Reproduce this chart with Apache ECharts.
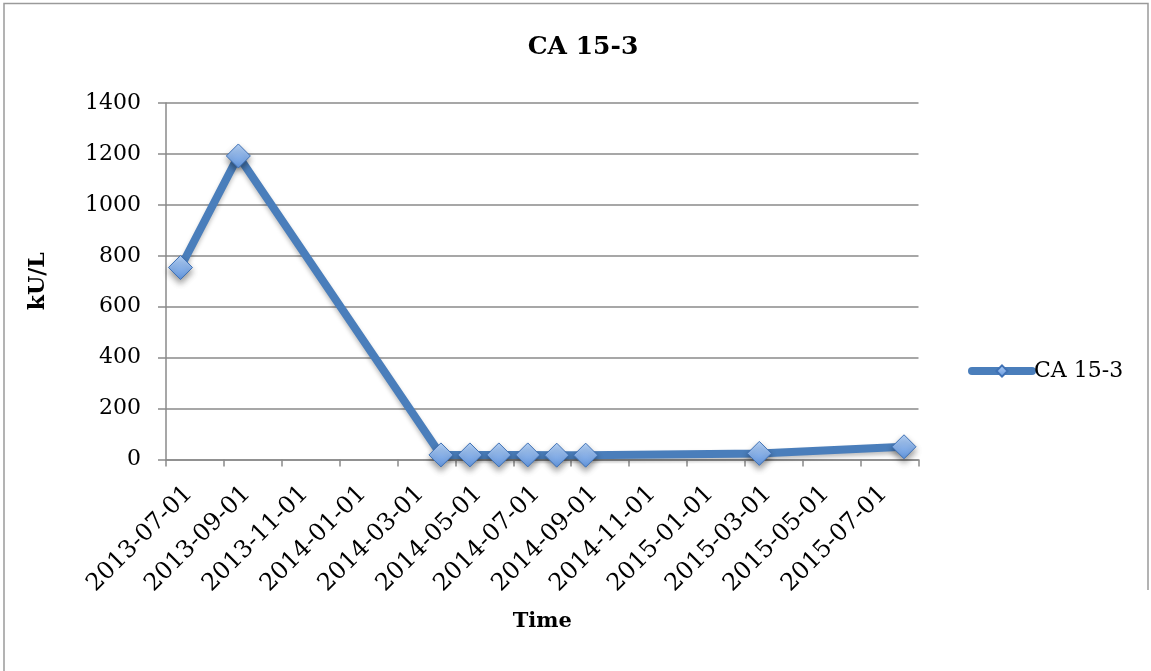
<!DOCTYPE html>
<html>
<head>
<meta charset="utf-8">
<title>CA 15-3</title>
<script src="https://cdn.jsdelivr.net/npm/echarts@6/dist/echarts.min.js"></script>
<style>
  html, body { margin: 0; padding: 0; background: #fff; }
  #chart { width: 1151px; height: 671px; }
</style>
</head>
<body>
<div id="chart"></div>
<script>
// Monthly slots on the time axis (one category per month)
const months = [
  '2013-07-01', '2013-08-01', '2013-09-01', '2013-10-01', '2013-11-01', '2013-12-01',
  '2014-01-01', '2014-02-01', '2014-03-01', '2014-04-01', '2014-05-01', '2014-06-01',
  '2014-07-01', '2014-08-01', '2014-09-01', '2014-10-01', '2014-11-01', '2014-12-01',
  '2015-01-01', '2015-02-01', '2015-03-01', '2015-04-01', '2015-05-01', '2015-06-01',
  '2015-07-01', '2015-08-01'
];

// Measurement months and CA 15-3 values (kU/L)
const sampleMonths = [
  '2013-07-01', '2013-09-01', '2014-04-01', '2014-05-01', '2014-06-01',
  '2014-07-01', '2014-08-01', '2014-09-01', '2015-03-01', '2015-08-01'
];
const ca153 = [754, 1192, 18, 18, 18, 18, 17, 17, 24, 50];

// y-axis scale
const yMin = 0;
const yMax = 1400;
const yStep = 200;

const serif = 'DejaVu Serif';
const lineBlue = '#4a7ebb';
const axisGrey = '#8a8a8a';

const chart = echarts.init(document.getElementById('chart'), null, { renderer: 'canvas' });

chart.setOption({
  backgroundColor: '#ffffff',
  animation: false,
  title: {
    text: 'CA 15-3',
    left: 578,
    textAlign: 'center',
    top: 30,
    textStyle: { fontFamily: serif, fontWeight: 'bold', fontSize: 25, color: '#000' }
  },
  legend: {
    left: 968,
    top: 360,
    padding: 0,
    itemWidth: 60,
    itemHeight: 14,
    itemGap: 10,
    lineStyle: { width: 8, cap: 'round' },
    textStyle: { fontFamily: serif, fontSize: 22, color: '#000', padding: [0, 0, 0, -3] },
    data: ['CA 15-3']
  },
  grid: { left: 166, right: 232.5, top: 103, bottom: 211.5, containLabel: false },
  xAxis: {
    type: 'category',
    data: months,
    boundaryGap: true,
    name: 'Time',
    nameLocation: 'middle',
    nameGap: 152,
    nameTextStyle: { fontFamily: serif, fontWeight: 'bold', fontSize: 21, color: '#000' },
    axisLine: { show: true, lineStyle: { color: axisGrey, width: 1.5 } },
    axisTick: { show: true, interval: 1, length: 7, lineStyle: { color: axisGrey, width: 1.5 } },
    axisLabel: {
      interval: 1,
      rotate: 45,
      margin: 22,
      align: 'right',
      verticalAlign: 'top',
      fontFamily: serif,
      fontSize: 24,
      color: '#000'
    },
    splitLine: { show: false }
  },
  yAxis: {
    type: 'value',
    min: yMin,
    max: yMax,
    interval: yStep,
    name: 'kU/L',
    nameLocation: 'middle',
    nameGap: 117,
    nameRotate: 90,
    nameTextStyle: { fontFamily: serif, fontWeight: 'bold', fontSize: 22, color: '#000' },
    axisLine: { show: true, lineStyle: { color: axisGrey, width: 1.5 } },
    axisTick: { show: true, length: 8, lineStyle: { color: axisGrey, width: 1.5 } },
    axisLabel: {
      margin: 25,
      fontFamily: serif,
      fontSize: 22,
      color: '#000',
      formatter: (v) => String(v)
    },
    splitLine: { show: true, lineStyle: { color: axisGrey, width: 1.5 } }
  },
  series: [{
    name: 'CA 15-3',
    type: 'line',
    data: sampleMonths.map((m, i) => [m, ca153[i]]),
    symbol: 'diamond',
    symbolSize: 24,
    showAllSymbol: true,
    lineStyle: {
      color: lineBlue,
      width: 8,
      cap: 'round',
      join: 'round',
      shadowColor: 'rgba(0,0,0,0.25)',
      shadowBlur: 4,
      shadowOffsetY: 3
    },
    itemStyle: {
      color: new echarts.graphic.LinearGradient(0, 0, 0, 1, [
        { offset: 0, color: '#b7d3f7' },
        { offset: 1, color: '#5f93dc' }
      ]),
      borderColor: '#3f71b5',
      borderWidth: 1,
      shadowColor: 'rgba(0,0,0,0.4)',
      shadowBlur: 6,
      shadowOffsetY: 4
    },
    emphasis: { disabled: true }
  }],
  graphic: [{
    type: 'polyline',
    silent: true,
    shape: { points: [[4, 671], [4, 3.5], [1148, 3.5], [1148, 590]] },
    style: { stroke: '#9a9a9a', lineWidth: 1.5, fill: null }
  }]
});
</script>
</body>
</html>
